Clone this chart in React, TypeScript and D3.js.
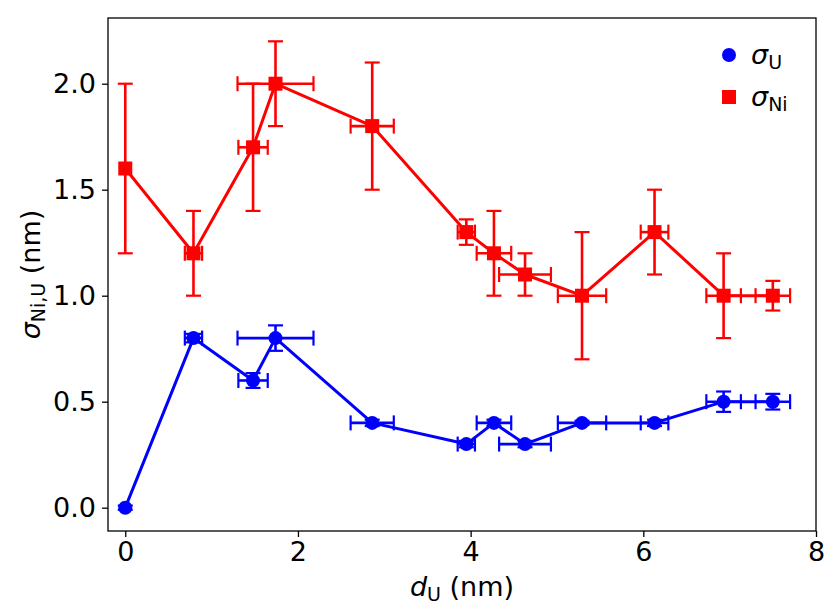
import React, { useRef, useEffect } from 'react';
import * as d3 from 'd3';

// shared x positions (d_U, nm) and their horizontal errors
const dU = [0, 0.79, 1.48, 1.74, 2.86, 3.95, 4.27, 4.63, 5.29, 6.13, 6.93, 7.5];
const dUErr = [0, 0.1, 0.17, 0.44, 0.25, 0.1, 0.2, 0.3, 0.28, 0.16, 0.2, 0.2];

// sigma_U series
const sigmaU = [0, 0.8, 0.6, 0.8, 0.4, 0.3, 0.4, 0.3, 0.4, 0.4, 0.5, 0.5];
const sigmaUErr = [0.01, 0.02, 0.035, 0.06, 0.015, 0.015, 0.015, 0.015, 0.01, 0.015, 0.048, 0.037];

// sigma_Ni series
const sigmaNi = [1.6, 1.2, 1.7, 2.0, 1.8, 1.3, 1.2, 1.1, 1.0, 1.3, 1.0, 1.0];
const sigmaNiErr = [0.4, 0.2, 0.3, 0.2, 0.3, 0.06, 0.2, 0.1, 0.3, 0.2, 0.2, 0.07];

const xTicks = [0, 2, 4, 6, 8];
const yTicks = [0, 0.5, 1.0, 1.5, 2.0];

const FONT = '"DejaVu Sans", sans-serif';
const FS = 27;
const SUB = 19;

const App: React.FC = () => {
  const ref = useRef<SVGSVGElement>(null);

  useEffect(() => {
    if (!ref.current) return;
    const svg = d3.select(ref.current);
    svg.selectAll('*').remove();

    const left = 108, right = 816, top = 18, bottom = 531;

    const x = d3.scaleLinear().domain([-0.2, 8]).range([left, right]);
    const y = d3.scaleLinear().domain([-0.11, 2.31]).range([bottom, top]);

    // axes
    const xAxis = svg.append('g')
      .attr('transform', `translate(0,${bottom})`)
      .call(d3.axisBottom(x).tickValues(xTicks).tickFormat(d3.format('d')).tickSize(6).tickPadding(5));
    const yAxis = svg.append('g')
      .attr('transform', `translate(${left},0)`)
      .call(d3.axisLeft(y).tickValues(yTicks).tickFormat(d3.format('.1f')).tickSize(6).tickPadding(6));

    [xAxis, yAxis].forEach(g => {
      g.select('.domain').remove();
      g.selectAll('line').attr('stroke', '#000').attr('stroke-width', 1.3);
      g.selectAll('text').attr('font-family', FONT).attr('font-size', FS).attr('fill', '#000');
    });

    // frame
    svg.append('rect')
      .attr('x', left).attr('y', top)
      .attr('width', right - left).attr('height', bottom - top)
      .attr('fill', 'none').attr('stroke', '#000').attr('stroke-width', 1.3);

    const line = d3.line<number>()
      .x((_, i) => x(dU[i]))
      .y(d => y(d));

    const drawSeries = (vals: number[], errs: number[], color: string, marker: 'circle' | 'square') => {
      const g = svg.append('g');
      g.append('path')
        .datum(vals)
        .attr('fill', 'none')
        .attr('stroke', color)
        .attr('stroke-width', 3)
        .attr('stroke-linejoin', 'round')
        .attr('d', line);

      const cap = 7.5;
      vals.forEach((v, i) => {
        const cx = x(dU[i]);
        const cy = y(v);
        // vertical error
        const y0 = y(v - errs[i]);
        const y1 = y(v + errs[i]);
        g.append('line').attr('x1', cx).attr('x2', cx).attr('y1', y0).attr('y2', y1)
          .attr('stroke', color).attr('stroke-width', 2.6);
        [y0, y1].forEach(yy => g.append('line')
          .attr('x1', cx - cap).attr('x2', cx + cap).attr('y1', yy).attr('y2', yy)
          .attr('stroke', color).attr('stroke-width', 2.2));
        // horizontal error
        if (dUErr[i] > 0) {
          const x0 = x(dU[i] - dUErr[i]);
          const x1 = x(dU[i] + dUErr[i]);
          g.append('line').attr('x1', x0).attr('x2', x1).attr('y1', cy).attr('y2', cy)
            .attr('stroke', color).attr('stroke-width', 2.6);
          [x0, x1].forEach(xx => g.append('line')
            .attr('x1', xx).attr('x2', xx).attr('y1', cy - cap).attr('y2', cy + cap)
            .attr('stroke', color).attr('stroke-width', 2.2));
        }
      });

      vals.forEach((v, i) => {
        const cx = x(dU[i]);
        const cy = y(v);
        if (marker === 'circle') {
          g.append('circle').attr('cx', cx).attr('cy', cy).attr('r', 7).attr('fill', color);
        } else {
          g.append('rect').attr('x', cx - 7).attr('y', cy - 7).attr('width', 14).attr('height', 14).attr('fill', color);
        }
      });
    };

    drawSeries(sigmaU, sigmaUErr, '#0000ff', 'circle');
    drawSeries(sigmaNi, sigmaNiErr, '#ff0000', 'square');

    // legend
    const leg = svg.append('g');
    leg.append('circle').attr('cx', 729).attr('cy', 55).attr('r', 7).attr('fill', '#0000ff');
    leg.append('rect').attr('x', 729 - 7).attr('y', 97 - 7).attr('width', 14).attr('height', 14).attr('fill', '#ff0000');
    const lt1 = leg.append('text').attr('x', 751).attr('y', 64).attr('font-family', FONT).attr('font-size', FS);
    lt1.append('tspan').attr('font-style', 'italic').text('σ');
    lt1.append('tspan').attr('font-size', SUB).attr('dy', 5).text('U');
    const lt2 = leg.append('text').attr('x', 751).attr('y', 106).attr('font-family', FONT).attr('font-size', FS);
    lt2.append('tspan').attr('font-style', 'italic').text('σ');
    lt2.append('tspan').attr('font-size', SUB).attr('dy', 5).text('Ni');

    // x label
    const xl = svg.append('text')
      .attr('x', (left + right) / 2).attr('y', 596)
      .attr('text-anchor', 'middle').attr('font-family', FONT).attr('font-size', FS);
    xl.append('tspan').attr('font-style', 'italic').text('d');
    xl.append('tspan').attr('font-size', SUB).attr('dy', 5).text('U');
    xl.append('tspan').attr('dy', -5).text(' (nm)');

    // y label
    const yl = svg.append('text')
      .attr('transform', `translate(40,${(top + bottom) / 2}) rotate(-90)`)
      .attr('text-anchor', 'middle').attr('font-family', FONT).attr('font-size', FS);
    yl.append('tspan').attr('font-style', 'italic').text('σ');
    yl.append('tspan').attr('font-size', SUB).attr('dy', 5).text('Ni,U');
    yl.append('tspan').attr('dy', -5).text(' (nm)');
  }, []);

  return (
    <svg
      ref={ref}
      width={838}
      height={615}
      style={{ position: 'absolute', left: 0, top: 0, background: '#fff' }}
    />
  );
};

export default App;
